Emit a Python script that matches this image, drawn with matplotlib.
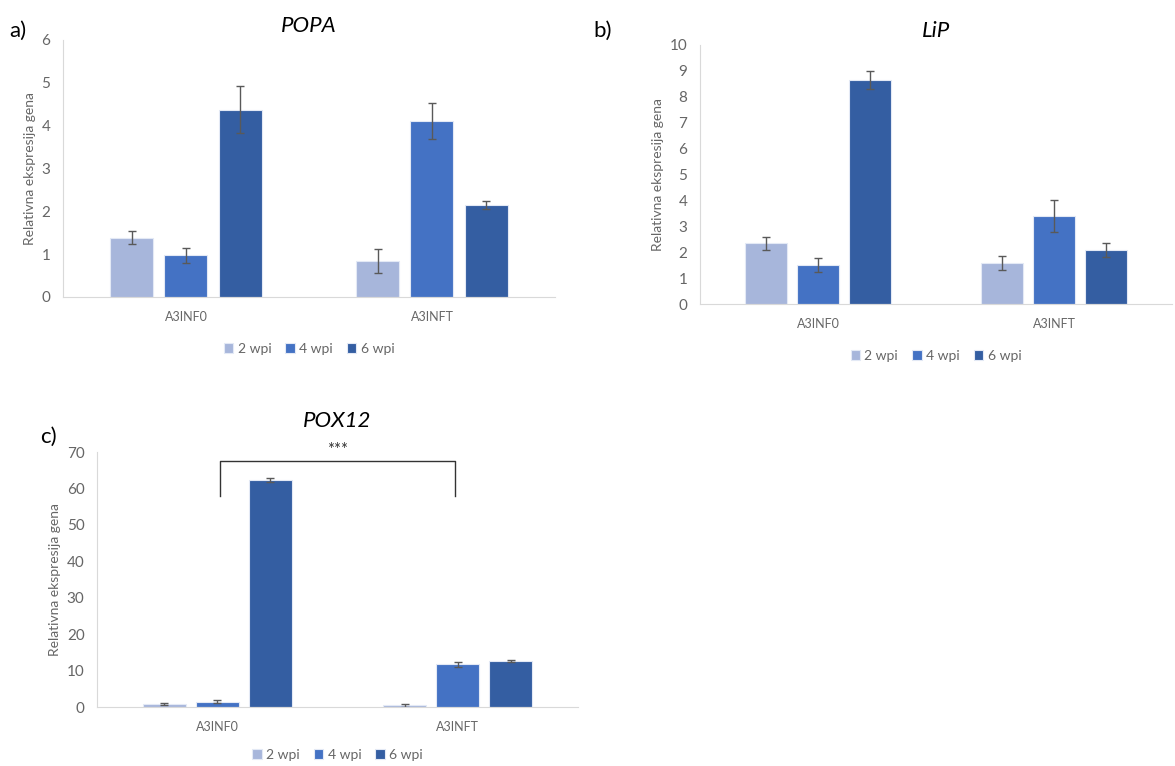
import matplotlib.pyplot as plt
import numpy as np

plt.rcParams['font.family'] = ['Lato', 'DejaVu Sans']

groups = ['A3INF0', 'A3INFT']
series = ['2 wpi', '4 wpi', '6 wpi']
colors = ['#A7B6DB', '#4472C4', '#345EA2']

popa_mean = [[1.38, 0.83], [0.97, 4.10], [4.37, 2.15]]
popa_err = [[0.15, 0.28], [0.18, 0.42], [0.55, 0.10]]

lip_mean = [[2.35, 1.60], [1.50, 3.40], [8.65, 2.10]]
lip_err = [[0.25, 0.27], [0.28, 0.62], [0.35, 0.27]]

pox_mean = [[0.8, 0.5], [1.5, 11.7], [62.3, 12.6]]
pox_err = [[0.3, 0.4], [0.5, 0.6], [0.5, 0.2]]


def bars(ax, means, errs, ymax, step, width=0.175, gap=0.22, leg_y=-0.13):
    x = np.arange(len(groups))
    for i, name in enumerate(series):
        ax.bar(x + (i - 1) * gap, means[i], width, color=colors[i],
               edgecolor='#E3E9F5', linewidth=0.8, label=name,
               yerr=errs[i], capsize=3,
               error_kw=dict(ecolor='#595959', elinewidth=1, capthick=1))
    ax.set_xlim(-0.5, 1.5)
    ax.set_ylim(0, ymax)
    ax.set_yticks(np.arange(0, ymax + step / 2, step))
    ax.set_xticks(x)
    ax.set_xticklabels(groups)
    ax.tick_params(axis='both', length=0, colors='#666666')
    ax.tick_params(axis='y', labelsize=11, pad=9)
    ax.tick_params(axis='x', labelsize=9, pad=10)
    for s in ['top', 'right']:
        ax.spines[s].set_visible(False)
    for s in ['left', 'bottom']:
        ax.spines[s].set_color('#D9D9D9')
    ax.set_ylabel('Relativna ekspresija gena', color='#666666', fontsize=10)
    leg = ax.legend(loc='upper center', bbox_to_anchor=(0.5, leg_y), ncol=3,
                    frameon=False, fontsize=10, handlelength=0.7,
                    handleheight=0.7, handletextpad=0.3, columnspacing=1.0)
    for t in leg.get_texts():
        t.set_color('#666666')


fig = plt.figure(figsize=(11.75, 7.66), dpi=100)

ax_a = fig.add_axes([0.0536, 0.6123, 0.4187, 0.3355])
bars(ax_a, popa_mean, popa_err, 6, 1)
ax_a.set_title('POPA', fontsize=16, style='italic', pad=6)

ax_b = fig.add_axes([0.5957, 0.6031, 0.4017, 0.3382])
bars(ax_b, lip_mean, lip_err, 10, 1)
ax_b.set_title('LiP', fontsize=16, style='italic', pad=6)

ax_c = fig.add_axes([0.0826, 0.0770, 0.4093, 0.3329])
bars(ax_c, pox_mean, pox_err, 70, 10, width=0.18, leg_y=-0.115)
ax_c.set_title('POX12', fontsize=16, style='italic', pad=18)

# significance bracket
bx0, bx1 = 0.01, 0.99
ax_c.plot([bx0, bx0, bx1, bx1], [58, 67.5, 67.5, 58], color='#333333',
          linewidth=1, clip_on=False)
ax_c.text((bx0 + bx1) / 2, 70.5, '***', ha='center', va='center',
          fontsize=12, color='#333333', clip_on=False)

fig.text(0.008, 0.96, 'a)', fontsize=16, va='center')
fig.text(0.505, 0.96, 'b)', fontsize=16, va='center')
fig.text(0.034, 0.43, 'c)', fontsize=16, va='center')

fig.savefig('out.png', dpi=100)
